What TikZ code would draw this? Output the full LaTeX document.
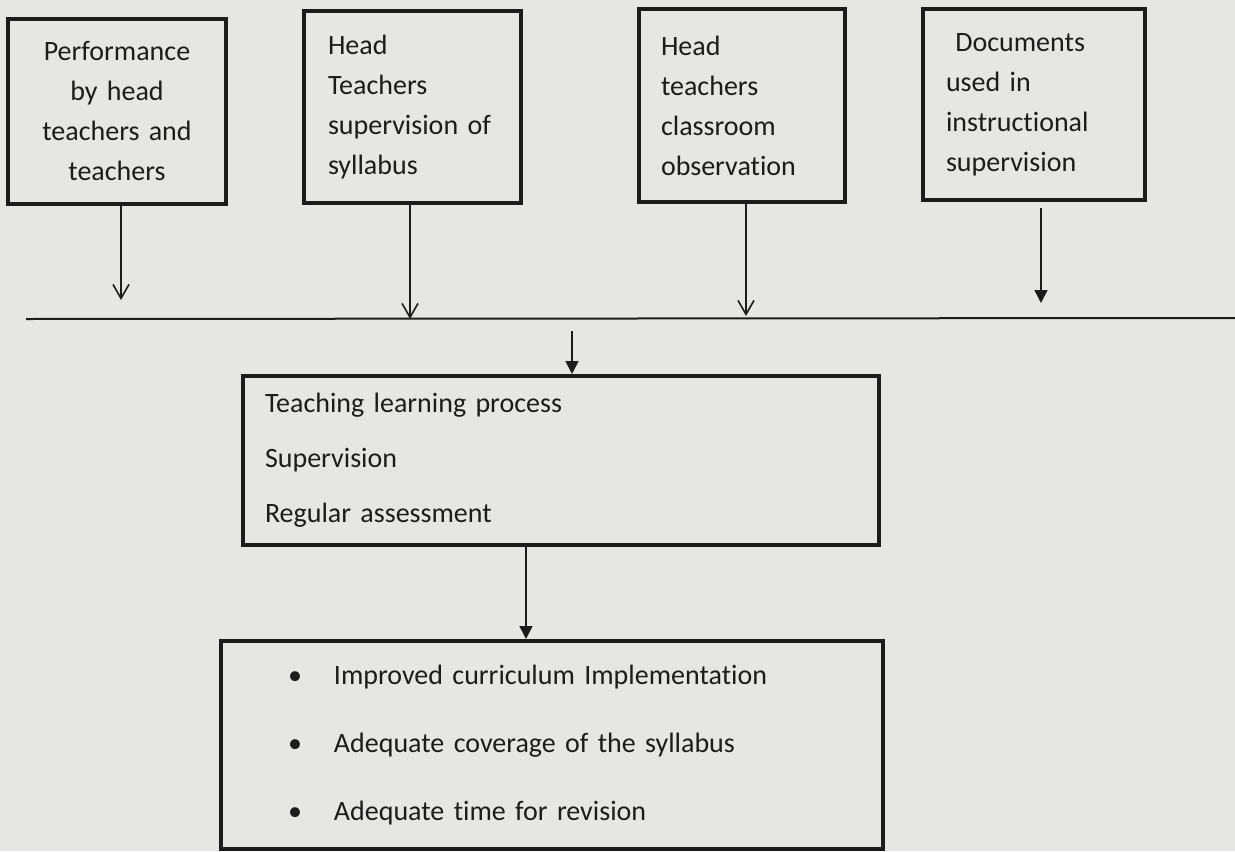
\documentclass[tikz,border=0pt]{standalone}
\usepackage{fontspec}
\setmainfont{Carlito}[Ligatures = NoCommon]
\usepackage{tikz}
\usetikzlibrary{positioning, arrows.meta}
\definecolor{paper}{RGB}{230,230,228}
\definecolor{ink}{RGB}{28,28,28}
\newcommand{\boxfont}{\fontsize{14pt}{20pt}\selectfont}
\newcommand{\itm}[1]{\makebox[23pt][l]{\textbullet}#1}
\tikzset{% 
	every edge/.append style={line width = 0.8pt, draw = ink},
	box/.style = {name = #1, draw = ink, line width = 2pt, inner sep = 0pt, text = ink, font = \boxfont},
	vee/.style = {-{Straight Barb[length = 7pt, width = 8pt]}},
	tri/.style = {-{Triangle[length = 6.5pt, width = 6.5pt]}}
}

\begin{document}
\begin{tikzpicture}[x = 0.5pt, y = -0.5pt]
			\useasboundingbox (0,0) rectangle (1235,851);
			\fill [paper] (0,0) rectangle (1235,851);
			\node [box = {b1}, minimum width = 109pt, minimum height = 92.5pt, text width = 100pt, align = center] at (117,111.5) {Performance\\ by head\\ teachers and\\ teachers};
			\node [box = {b2}, minimum width = 108.5pt, minimum height = 96pt, text width = 84.5pt, align = left] at (412.5,107) {Head\\ Teachers\\ supervision of\\ syllabus};
			\node [box = {b3}, minimum width = 103pt, minimum height = 96.5pt, text width = 81pt, align = left] at (742,105.5) {Head\\ teachers\\ classroom\\ observation};
			\node [box = {b4}, minimum width = 111pt, minimum height = 95.5pt, text width = 88pt, align = left] at (1034,104.5) {\ Documents\\ used in\\ instructional\\ supervision};
			\node [box = {b5}, minimum width = 318pt, minimum height = 84.5pt, text width = 296pt, align = left] at (561,460.5) {Teaching learning process\\[7.5pt] Supervision\\[7.5pt] Regular assessment};
			\node [box = {b6}, minimum width = 331pt, minimum height = 104pt, text width = 264pt, align = left] at (552,745) {\itm{Improved curriculum Implementation}\\[14pt] \itm{Adequate coverage of the syllabus}\\[14pt] \itm{Adequate time for revision}};
			\coordinate (lineL) at (26,319);
			\coordinate (lineR) at (1235,318);
			\coordinate (e1) at (121,300);
			\coordinate (e2) at (410,319);
			\coordinate (e3) at (746,316);
			\coordinate (e4) at (1041,303);
			\coordinate (s5) at (572,331);
			\draw [ink, line width = 1pt] (lineL) -- (lineR);
			\path [vee] ([xshift = 2pt]b1.south) edge (e1);
			\path [vee] ([xshift = -1.25pt]b2.south) edge (e2);
			\path [vee] ([xshift = 2pt]b3.south) edge (e3);
			\path [tri] ([xshift = 3.5pt, yshift = -3pt]b4.south) edge (e4);
			\path [tri] (s5) edge (s5 |- b5.north);
			\path [tri] ([xshift = -17.5pt]b5.south) edge ([xshift = -13pt]b6.north);
			\end{tikzpicture}
\end{document}
